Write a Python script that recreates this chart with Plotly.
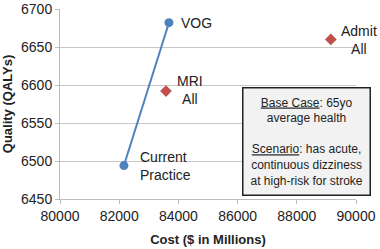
import plotly.graph_objects as go

line_x = [82160, 83680]
line_y = [6494, 6682]
line_labels = ["Current<br>Practice", "VOG"]

other_x = [83580, 89150]
other_y = [6592, 6660]
other_labels = ["MRI<br>All", "Admit<br>All"]

x_ticks = [80000, 82000, 84000, 86000, 88000, 90000]
y_ticks = [6450, 6500, 6550, 6600, 6650, 6700]

FONT = "Liberation Sans"
blue = "#4F81BD"
red = "#C0504D"
txt = "#222222"

fig = go.Figure()
fig.add_trace(go.Scatter(x=line_x, y=line_y, mode="lines+markers",
                         line=dict(color=blue, width=2),
                         marker=dict(color=blue, size=9, symbol="circle"),
                         showlegend=False, hoverinfo="skip", cliponaxis=False))
fig.add_trace(go.Scatter(x=other_x, y=other_y, mode="markers",
                         marker=dict(color=red, size=9, symbol="diamond"),
                         showlegend=False, hoverinfo="skip", cliponaxis=False))

# point labels
fig.add_annotation(x=line_x[0], y=line_y[0], text=line_labels[0], showarrow=False,
                   xanchor="left", yanchor="middle", xshift=14, yshift=0,
                   font=dict(family=FONT, size=14, color=txt), align="left")
fig.add_annotation(x=line_x[1], y=line_y[1], text=line_labels[1], showarrow=False,
                   xanchor="left", yanchor="middle", xshift=10, yshift=0,
                   font=dict(family=FONT, size=14, color=txt), align="left")
fig.add_annotation(x=other_x[0], y=other_y[0], text=other_labels[0], showarrow=False,
                   xanchor="left", yanchor="middle", xshift=9, yshift=1,
                   font=dict(family=FONT, size=14, color=txt), align="center")
fig.add_annotation(x=other_x[1], y=other_y[1], text=other_labels[1], showarrow=False,
                   xanchor="left", yanchor="middle", xshift=8, yshift=-1,
                   font=dict(family=FONT, size=14, color=txt), align="center")

# info box
fig.add_annotation(xref="paper", yref="paper", x=1.052, y=0.59,
                   xanchor="right", yanchor="top", showarrow=False,
                   text="<u>Base Case</u>: 65yo<br>average health<br><br><u>Scenario</u>: has acute,<br>continuous dizziness<br>at high-risk for stroke",
                   font=dict(family=FONT, size=12, color=txt), align="center",
                   bgcolor="#F2F2F2", bordercolor="#222", borderwidth=1.5, borderpad=7)

fig.update_xaxes(range=[80000, 90000], tickvals=x_ticks, ticktext=[str(v) for v in x_ticks],
                 showgrid=False, ticklabeloverflow="allow",
                 showline=True, linecolor="#BBBBBB", ticks="outside", ticklen=4,
                 tickcolor="#BBBBBB", tickfont=dict(family=FONT, size=14, color=txt),
                 title=dict(text="<b>Cost ($ in Millions)</b>", font=dict(family=FONT, size=13, color=txt), standoff=12),
                 zeroline=False)
fig.update_yaxes(range=[6450, 6700], tickvals=y_ticks, ticktext=[str(v) for v in y_ticks],
                 showgrid=True, gridcolor="#C8C8C8", ticklabeloverflow="allow",
                 showline=True, linecolor="#BBBBBB", ticks="outside", ticklen=4,
                 tickcolor="#BBBBBB", tickfont=dict(family=FONT, size=14, color=txt),
                 title=dict(text="<b>Quality (QALYs)</b>", font=dict(family=FONT, size=13, color=txt), standoff=6),
                 zeroline=False)

fig.update_layout(width=380, height=249, margin=dict(l=60, r=24, t=9, b=50, autoexpand=False),
                  paper_bgcolor="white", plot_bgcolor="white")

fig.write_html("out.html", config={"displayModeBar": False},
               post_script="document.body.style.margin='0';")
